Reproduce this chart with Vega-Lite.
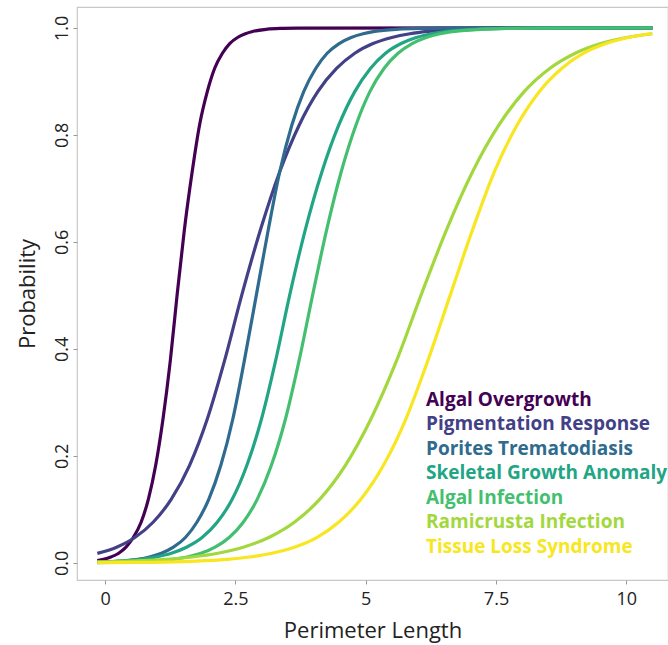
{
  "$schema": "https://vega.github.io/schema/vega-lite/v6.json",
  "autosize": {"type": "none"},
  "width": 591,
  "height": 573,
  "padding": {"left": 77, "top": 7, "right": 0, "bottom": 65},
  "background": "white",
  "config": {
    "view": {"stroke": "#c8c8c8", "strokeWidth": 1.2},
    "font": "Open Sans",
    "axis": {"domain": false, "grid": false, "tickColor": "#9a9a9a", "tickSize": 4, "labelColor": "#222222", "titleColor": "#222222", "labelFontSize": 18, "titleFontSize": 22, "titleFontWeight": "normal", "labelFont": "Open Sans", "titleFont": "Open Sans"}
  },
  "data": {"values": [
    {"disease": "Algal Overgrowth", "x": -0.15, "p": 0.0044},
    {"disease": "Algal Overgrowth", "x": -0.03, "p": 0.0067},
    {"disease": "Algal Overgrowth", "x": 0.11, "p": 0.011},
    {"disease": "Algal Overgrowth", "x": 0.26, "p": 0.018},
    {"disease": "Algal Overgrowth", "x": 0.40, "p": 0.0293},
    {"disease": "Algal Overgrowth", "x": 0.54, "p": 0.0474},
    {"disease": "Algal Overgrowth", "x": 0.69, "p": 0.0759},
    {"disease": "Algal Overgrowth", "x": 0.83, "p": 0.1192},
    {"disease": "Algal Overgrowth", "x": 0.97, "p": 0.1824},
    {"disease": "Algal Overgrowth", "x": 1.11, "p": 0.2689},
    {"disease": "Algal Overgrowth", "x": 1.25, "p": 0.3775},
    {"disease": "Algal Overgrowth", "x": 1.38, "p": 0.5},
    {"disease": "Algal Overgrowth", "x": 1.52, "p": 0.6225},
    {"disease": "Algal Overgrowth", "x": 1.67, "p": 0.7311},
    {"disease": "Algal Overgrowth", "x": 1.81, "p": 0.8176},
    {"disease": "Algal Overgrowth", "x": 1.96, "p": 0.8808},
    {"disease": "Algal Overgrowth", "x": 2.10, "p": 0.9241},
    {"disease": "Algal Overgrowth", "x": 2.25, "p": 0.9526},
    {"disease": "Algal Overgrowth", "x": 2.39, "p": 0.9707},
    {"disease": "Algal Overgrowth", "x": 2.54, "p": 0.982},
    {"disease": "Algal Overgrowth", "x": 2.69, "p": 0.989},
    {"disease": "Algal Overgrowth", "x": 2.83, "p": 0.9933},
    {"disease": "Algal Overgrowth", "x": 3.11, "p": 0.9975},
    {"disease": "Algal Overgrowth", "x": 3.40, "p": 0.9991},
    {"disease": "Algal Overgrowth", "x": 3.69, "p": 0.9997},
    {"disease": "Algal Overgrowth", "x": 10.5, "p": 1.0},

    {"disease": "Pigmentation Response", "x": -0.15, "p": 0.0177},
    {"disease": "Pigmentation Response", "x": 0.22, "p": 0.0293},
    {"disease": "Pigmentation Response", "x": 0.57, "p": 0.0474},
    {"disease": "Pigmentation Response", "x": 0.92, "p": 0.0759},
    {"disease": "Pigmentation Response", "x": 1.27, "p": 0.1192},
    {"disease": "Pigmentation Response", "x": 1.62, "p": 0.1824},
    {"disease": "Pigmentation Response", "x": 1.96, "p": 0.2689},
    {"disease": "Pigmentation Response", "x": 2.29, "p": 0.3775},
    {"disease": "Pigmentation Response", "x": 2.62, "p": 0.5},
    {"disease": "Pigmentation Response", "x": 2.98, "p": 0.6225},
    {"disease": "Pigmentation Response", "x": 3.35, "p": 0.7311},
    {"disease": "Pigmentation Response", "x": 3.72, "p": 0.8176},
    {"disease": "Pigmentation Response", "x": 4.08, "p": 0.8808},
    {"disease": "Pigmentation Response", "x": 4.44, "p": 0.9241},
    {"disease": "Pigmentation Response", "x": 4.79, "p": 0.9526},
    {"disease": "Pigmentation Response", "x": 5.14, "p": 0.9707},
    {"disease": "Pigmentation Response", "x": 5.50, "p": 0.982},
    {"disease": "Pigmentation Response", "x": 5.85, "p": 0.989},
    {"disease": "Pigmentation Response", "x": 6.20, "p": 0.9933},
    {"disease": "Pigmentation Response", "x": 6.91, "p": 0.9975},
    {"disease": "Pigmentation Response", "x": 7.61, "p": 0.9991},
    {"disease": "Pigmentation Response", "x": 8.31, "p": 0.9997},
    {"disease": "Pigmentation Response", "x": 10.5, "p": 1.0},

    {"disease": "Porites Trematodiasis", "x": -0.15, "p": 0.0012},
    {"disease": "Porites Trematodiasis", "x": 0.17, "p": 0.0025},
    {"disease": "Porites Trematodiasis", "x": 0.63, "p": 0.0067},
    {"disease": "Porites Trematodiasis", "x": 0.85, "p": 0.011},
    {"disease": "Porites Trematodiasis", "x": 1.08, "p": 0.018},
    {"disease": "Porites Trematodiasis", "x": 1.31, "p": 0.0293},
    {"disease": "Porites Trematodiasis", "x": 1.54, "p": 0.0474},
    {"disease": "Porites Trematodiasis", "x": 1.76, "p": 0.0759},
    {"disease": "Porites Trematodiasis", "x": 1.99, "p": 0.1192},
    {"disease": "Porites Trematodiasis", "x": 2.22, "p": 0.1824},
    {"disease": "Porites Trematodiasis", "x": 2.45, "p": 0.2689},
    {"disease": "Porites Trematodiasis", "x": 2.67, "p": 0.3775},
    {"disease": "Porites Trematodiasis", "x": 2.90, "p": 0.5},
    {"disease": "Porites Trematodiasis", "x": 3.13, "p": 0.6225},
    {"disease": "Porites Trematodiasis", "x": 3.35, "p": 0.7311},
    {"disease": "Porites Trematodiasis", "x": 3.58, "p": 0.8176},
    {"disease": "Porites Trematodiasis", "x": 3.81, "p": 0.8808},
    {"disease": "Porites Trematodiasis", "x": 4.04, "p": 0.9241},
    {"disease": "Porites Trematodiasis", "x": 4.26, "p": 0.9526},
    {"disease": "Porites Trematodiasis", "x": 4.49, "p": 0.9707},
    {"disease": "Porites Trematodiasis", "x": 4.72, "p": 0.982},
    {"disease": "Porites Trematodiasis", "x": 4.95, "p": 0.989},
    {"disease": "Porites Trematodiasis", "x": 5.17, "p": 0.9933},
    {"disease": "Porites Trematodiasis", "x": 5.63, "p": 0.9975},
    {"disease": "Porites Trematodiasis", "x": 6.08, "p": 0.9991},
    {"disease": "Porites Trematodiasis", "x": 6.54, "p": 0.9997},
    {"disease": "Porites Trematodiasis", "x": 10.5, "p": 1.0},

    {"disease": "Skeletal Growth Anomaly", "x": -0.15, "p": 0.0016},
    {"disease": "Skeletal Growth Anomaly", "x": 0.09, "p": 0.0025},
    {"disease": "Skeletal Growth Anomaly", "x": 0.68, "p": 0.0067},
    {"disease": "Skeletal Growth Anomaly", "x": 0.97, "p": 0.011},
    {"disease": "Skeletal Growth Anomaly", "x": 1.27, "p": 0.018},
    {"disease": "Skeletal Growth Anomaly", "x": 1.56, "p": 0.0293},
    {"disease": "Skeletal Growth Anomaly", "x": 1.86, "p": 0.0474},
    {"disease": "Skeletal Growth Anomaly", "x": 2.15, "p": 0.0759},
    {"disease": "Skeletal Growth Anomaly", "x": 2.44, "p": 0.1192},
    {"disease": "Skeletal Growth Anomaly", "x": 2.72, "p": 0.1824},
    {"disease": "Skeletal Growth Anomaly", "x": 3.00, "p": 0.2689},
    {"disease": "Skeletal Growth Anomaly", "x": 3.27, "p": 0.3775},
    {"disease": "Skeletal Growth Anomaly", "x": 3.54, "p": 0.5},
    {"disease": "Skeletal Growth Anomaly", "x": 3.84, "p": 0.6225},
    {"disease": "Skeletal Growth Anomaly", "x": 4.16, "p": 0.7311},
    {"disease": "Skeletal Growth Anomaly", "x": 4.48, "p": 0.8176},
    {"disease": "Skeletal Growth Anomaly", "x": 4.79, "p": 0.8808},
    {"disease": "Skeletal Growth Anomaly", "x": 5.09, "p": 0.9241},
    {"disease": "Skeletal Growth Anomaly", "x": 5.38, "p": 0.9526},
    {"disease": "Skeletal Growth Anomaly", "x": 5.68, "p": 0.9707},
    {"disease": "Skeletal Growth Anomaly", "x": 5.97, "p": 0.982},
    {"disease": "Skeletal Growth Anomaly", "x": 6.27, "p": 0.989},
    {"disease": "Skeletal Growth Anomaly", "x": 6.56, "p": 0.9933},
    {"disease": "Skeletal Growth Anomaly", "x": 7.15, "p": 0.9975},
    {"disease": "Skeletal Growth Anomaly", "x": 7.74, "p": 0.9991},
    {"disease": "Skeletal Growth Anomaly", "x": 8.33, "p": 0.9997},
    {"disease": "Skeletal Growth Anomaly", "x": 10.5, "p": 1.0},

    {"disease": "Algal Infection", "x": -0.15, "p": 0.0005},
    {"disease": "Algal Infection", "x": 0.22, "p": 0.0009},
    {"disease": "Algal Infection", "x": 0.76, "p": 0.0025},
    {"disease": "Algal Infection", "x": 1.30, "p": 0.0067},
    {"disease": "Algal Infection", "x": 1.57, "p": 0.011},
    {"disease": "Algal Infection", "x": 1.84, "p": 0.018},
    {"disease": "Algal Infection", "x": 2.11, "p": 0.0293},
    {"disease": "Algal Infection", "x": 2.38, "p": 0.0474},
    {"disease": "Algal Infection", "x": 2.65, "p": 0.0759},
    {"disease": "Algal Infection", "x": 2.92, "p": 0.1192},
    {"disease": "Algal Infection", "x": 3.19, "p": 0.1824},
    {"disease": "Algal Infection", "x": 3.46, "p": 0.2689},
    {"disease": "Algal Infection", "x": 3.72, "p": 0.3775},
    {"disease": "Algal Infection", "x": 3.98, "p": 0.5},
    {"disease": "Algal Infection", "x": 4.25, "p": 0.6225},
    {"disease": "Algal Infection", "x": 4.53, "p": 0.7311},
    {"disease": "Algal Infection", "x": 4.81, "p": 0.8176},
    {"disease": "Algal Infection", "x": 5.08, "p": 0.8808},
    {"disease": "Algal Infection", "x": 5.35, "p": 0.9241},
    {"disease": "Algal Infection", "x": 5.62, "p": 0.9526},
    {"disease": "Algal Infection", "x": 5.89, "p": 0.9707},
    {"disease": "Algal Infection", "x": 6.16, "p": 0.982},
    {"disease": "Algal Infection", "x": 6.43, "p": 0.989},
    {"disease": "Algal Infection", "x": 6.70, "p": 0.9933},
    {"disease": "Algal Infection", "x": 7.24, "p": 0.9975},
    {"disease": "Algal Infection", "x": 7.78, "p": 0.9991},
    {"disease": "Algal Infection", "x": 8.32, "p": 0.9997},
    {"disease": "Algal Infection", "x": 10.5, "p": 1.0},

    {"disease": "Ramicrusta Infection", "x": -0.15, "p": 0.0017},
    {"disease": "Ramicrusta Infection", "x": 0.20, "p": 0.0025},
    {"disease": "Ramicrusta Infection", "x": 0.69, "p": 0.0041},
    {"disease": "Ramicrusta Infection", "x": 1.18, "p": 0.0067},
    {"disease": "Ramicrusta Infection", "x": 1.67, "p": 0.011},
    {"disease": "Ramicrusta Infection", "x": 2.16, "p": 0.018},
    {"disease": "Ramicrusta Infection", "x": 2.65, "p": 0.0293},
    {"disease": "Ramicrusta Infection", "x": 3.14, "p": 0.0474},
    {"disease": "Ramicrusta Infection", "x": 3.63, "p": 0.0759},
    {"disease": "Ramicrusta Infection", "x": 4.12, "p": 0.1192},
    {"disease": "Ramicrusta Infection", "x": 4.61, "p": 0.1824},
    {"disease": "Ramicrusta Infection", "x": 5.10, "p": 0.2689},
    {"disease": "Ramicrusta Infection", "x": 5.59, "p": 0.3775},
    {"disease": "Ramicrusta Infection", "x": 6.06, "p": 0.5},
    {"disease": "Ramicrusta Infection", "x": 6.55, "p": 0.6225},
    {"disease": "Ramicrusta Infection", "x": 7.05, "p": 0.7311},
    {"disease": "Ramicrusta Infection", "x": 7.55, "p": 0.8176},
    {"disease": "Ramicrusta Infection", "x": 8.04, "p": 0.8808},
    {"disease": "Ramicrusta Infection", "x": 8.53, "p": 0.9241},
    {"disease": "Ramicrusta Infection", "x": 9.02, "p": 0.9526},
    {"disease": "Ramicrusta Infection", "x": 9.51, "p": 0.9707},
    {"disease": "Ramicrusta Infection", "x": 10.0, "p": 0.982},
    {"disease": "Ramicrusta Infection", "x": 10.5, "p": 0.989},

    {"disease": "Tissue Loss Syndrome", "x": -0.15, "p": 0.0004},
    {"disease": "Tissue Loss Syndrome", "x": 0.64, "p": 0.0009},
    {"disease": "Tissue Loss Syndrome", "x": 1.49, "p": 0.0025},
    {"disease": "Tissue Loss Syndrome", "x": 1.92, "p": 0.0041},
    {"disease": "Tissue Loss Syndrome", "x": 2.35, "p": 0.0067},
    {"disease": "Tissue Loss Syndrome", "x": 2.77, "p": 0.011},
    {"disease": "Tissue Loss Syndrome", "x": 3.20, "p": 0.018},
    {"disease": "Tissue Loss Syndrome", "x": 3.63, "p": 0.0293},
    {"disease": "Tissue Loss Syndrome", "x": 4.06, "p": 0.0474},
    {"disease": "Tissue Loss Syndrome", "x": 4.48, "p": 0.0759},
    {"disease": "Tissue Loss Syndrome", "x": 4.91, "p": 0.1192},
    {"disease": "Tissue Loss Syndrome", "x": 5.34, "p": 0.1824},
    {"disease": "Tissue Loss Syndrome", "x": 5.77, "p": 0.2689},
    {"disease": "Tissue Loss Syndrome", "x": 6.19, "p": 0.3775},
    {"disease": "Tissue Loss Syndrome", "x": 6.62, "p": 0.5},
    {"disease": "Tissue Loss Syndrome", "x": 7.05, "p": 0.6225},
    {"disease": "Tissue Loss Syndrome", "x": 7.47, "p": 0.7311},
    {"disease": "Tissue Loss Syndrome", "x": 7.90, "p": 0.8176},
    {"disease": "Tissue Loss Syndrome", "x": 8.33, "p": 0.8808},
    {"disease": "Tissue Loss Syndrome", "x": 8.76, "p": 0.9241},
    {"disease": "Tissue Loss Syndrome", "x": 9.18, "p": 0.9526},
    {"disease": "Tissue Loss Syndrome", "x": 9.61, "p": 0.9707},
    {"disease": "Tissue Loss Syndrome", "x": 10.04, "p": 0.982},
    {"disease": "Tissue Loss Syndrome", "x": 10.5, "p": 0.9894}
  ]},
  "mark": {"type": "line", "strokeWidth": 3.2, "interpolate": "monotone", "clip": true},
  "encoding": {
    "x": {
      "field": "x", "type": "quantitative", "title": "Perimeter Length",
      "scale": {"domain": [-0.54, 10.8], "nice": false, "zero": false},
      "axis": {"values": [0, 2.5, 5, 7.5, 10], "labelExpr": "'' + datum.value", "labelPadding": 6, "titlePadding": 12}
    },
    "y": {
      "field": "p", "type": "quantitative", "title": "Probability",
      "scale": {"domain": [-0.032, 1.039], "nice": false, "zero": false},
      "axis": {"values": [0, 0.2, 0.4, 0.6, 0.8, 1.0], "format": ".1f", "labelAngle": -90, "labelAlign": "center", "labelBaseline": "bottom", "labelPadding": 2, "titlePadding": 14}
    },
    "color": {
      "field": "disease", "type": "nominal",
      "scale": {
        "domain": ["Algal Overgrowth", "Pigmentation Response", "Porites Trematodiasis", "Skeletal Growth Anomaly", "Algal Infection", "Ramicrusta Infection", "Tissue Loss Syndrome"],
        "range": ["#440154", "#424086", "#2e6b8e", "#22a585", "#44bf70", "#a2d83d", "#f8e621"]
      },
      "legend": {
        "orient": "none", "legendX": 328, "legendY": 383, "title": null,
        "padding": 0, "symbolSize": 0, "symbolOpacity": 0, "symbolStrokeWidth": 0, "labelOffset": 2,
        "labelFont": "Open Sans", "labelFontSize": 19, "labelFontWeight": "bold", "labelLimit": 400, "rowPadding": 4.5,
        "encode": {"labels": {"update": {"fill": {"scale": "color", "field": "value"}}}}
      }
    }
  }
}
